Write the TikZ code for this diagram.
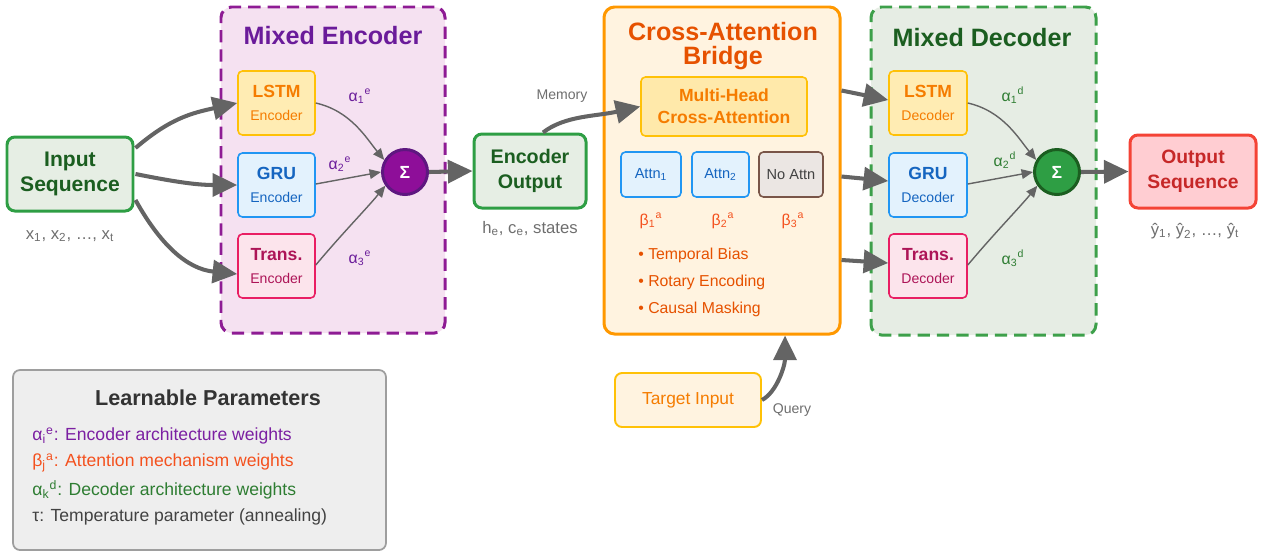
\documentclass[tikz,border=0pt]{standalone}
\usepackage{fontspec}
\setmainfont{Liberation Sans}
\usetikzlibrary{arrows.meta,calc}

% palette
\definecolor{flowgray}{HTML}{646464}
\definecolor{labgray}{HTML}{6E6E6E}
\definecolor{grnline}{HTML}{2E9E44}
\definecolor{grnfill}{HTML}{E6EEE4}
\definecolor{grntext}{HTML}{1B5E20}
\definecolor{grnalpha}{HTML}{2E7D32}
\definecolor{decfill}{HTML}{E6EDE4}
\definecolor{decline}{HTML}{3DA04A}
\definecolor{encfill}{HTML}{F5E1F1}
\definecolor{encline}{HTML}{8E1B94}
\definecolor{enctitle}{HTML}{6A1B9A}
\definecolor{sigpurple}{HTML}{8E0E99}
\definecolor{sigpurpleln}{HTML}{5E1780}
\definecolor{siggreen}{HTML}{2E9E44}
\definecolor{lstmfill}{HTML}{FFECB3}
\definecolor{lstmline}{HTML}{FFC107}
\definecolor{lstmtext}{HTML}{F57C00}
\definecolor{grufill}{HTML}{E3F2FD}
\definecolor{gruline}{HTML}{2196F3}
\definecolor{grutext}{HTML}{1565C0}
\definecolor{trfill}{HTML}{FCE4EC}
\definecolor{trline}{HTML}{E91E63}
\definecolor{trtext}{HTML}{AD1457}
\definecolor{brfill}{HTML}{FFF3E0}
\definecolor{brline}{HTML}{FF9800}
\definecolor{brtext}{HTML}{E65100}
\definecolor{betatext}{HTML}{F4511E}
\definecolor{mhafill}{HTML}{FFE9AA}
\definecolor{nafill}{HTML}{EBE6E3}
\definecolor{naline}{HTML}{795548}
\definecolor{natext}{HTML}{424242}
\definecolor{outfill}{HTML}{FFCDD2}
\definecolor{outln}{HTML}{F44336}
\definecolor{outtext}{HTML}{C62828}
\definecolor{legfill}{HTML}{EEEEEE}
\definecolor{legline}{HTML}{9E9E9E}
\definecolor{legtitle}{HTML}{333333}
\definecolor{legpurple}{HTML}{7B1FA2}
\definecolor{leggreen}{HTML}{2E7D32}
\definecolor{legdark}{HTML}{424242}

\begin{document}
\begin{tikzpicture}[x=0.02cm, y=-0.02cm,
  sz/.style 2 args={minimum width=#1*0.02cm, minimum height=#2*0.02cm},
  mainbox/.style={draw=grnline, fill=grnfill, line width=1.7pt, rounded corners=4.5pt,
    inner sep=0pt, align=center, text=grntext},
  cell/.style={line width=0.9pt, rounded corners=2.5pt, inner sep=0pt, align=center,
    font=\fontsize{8}{13}\selectfont},
  group/.style={line width=1.7pt, rounded corners=6pt, dash pattern=on 7pt off 4pt, inner sep=0pt},
  sumnode/.style={circle, minimum size=45*0.02cm, inner sep=0pt, line width=1.7pt,
    text=white, font=\bfseries\fontsize{10}{12}\selectfont},
  bigflow/.style={draw=flowgray, line width=2.3pt, -{Triangle[length=14pt,width=13pt]}},
  thinflow/.style={draw=flowgray, line width=0.8pt, -{Triangle[length=6.5pt,width=5.5pt]}},
  note/.style={text=labgray, font=\fontsize{9.5}{11}\selectfont},
  smallnote/.style={text=labgray, font=\fontsize{8}{10}\selectfont},
  grouphead/.style={font=\bfseries\fontsize{14.3}{13.3}\selectfont, align=center},
  wlab/.style={font=\fontsize{9}{11}\selectfont},
  bullet/.style={anchor=west, inner sep=0pt, text=brtext, font=\fontsize{9}{11}\selectfont},
  legline/.style={anchor=west, inner sep=0pt, font=\fontsize{10}{12}\selectfont}
]
\useasboundingbox (0,0) rectangle (1263,552);

% ---------- group frames ----------
\node[group, draw=encline, fill=encfill, sz={224}{326}] (encgrp) at (333,170) {};
\node[grouphead, text=enctitle] (enchead) at (333,36) {Mixed Encoder};

\node[draw=brline, fill=brfill, line width=1.7pt, rounded corners=6pt, inner sep=0pt,
  sz={236}{327}] (bridge) at (722,170.5) {};
\node[grouphead, text=brtext] (brhead) at (723,46) {Cross-Attention\\Bridge};

\node[group, draw=decline, fill=decfill, sz={225}{328}] (decgrp) at (983.5,171) {};
\node[grouphead, text=grntext] (dechead) at (982,38) {Mixed Decoder};

% ---------- input side ----------
\node[mainbox, sz={126}{74}, font=\bfseries\fontsize{12}{14.7}\selectfont] (inp) at (70,174)
  {Input\\Sequence};
\node[note] (xlab) at (70,236)
  {x\textsubscript{1}, x\textsubscript{2}, …, x\textsubscript{t}};

% ---------- encoder cells ----------
\node[cell, draw=lstmline, fill=lstmfill, text=lstmtext, sz={77}{64}] (lstme) at (276.5,103)
  {{\bfseries\fontsize{10}{12}\selectfont LSTM}\\Encoder};
\node[cell, draw=gruline, fill=grufill, text=grutext, sz={77}{64}] (grue) at (276.5,185)
  {{\bfseries\fontsize{10}{12}\selectfont GRU}\\Encoder};
\node[cell, draw=trline, fill=trfill, text=trtext, sz={77}{64}] (transe) at (276.5,266)
  {{\bfseries\fontsize{10}{12}\selectfont Trans.}\\Encoder};
\node[sumnode, fill=sigpurple, draw=sigpurpleln] (sige) at (405,172) {Σ};

\node[wlab, text=enctitle] (ae1) at (360,96) {α\textsubscript{1}\textsuperscript{e}};
\node[wlab, text=enctitle] (ae2) at (340,164) {α\textsubscript{2}\textsuperscript{e}};
\node[wlab, text=enctitle] (ae3) at (360,258) {α\textsubscript{3}\textsuperscript{e}};

% ---------- encoder output ----------
\node[mainbox, sz={112}{74}, font=\bfseries\fontsize{11.2}{14.2}\selectfont] (encout) at (530,171)
  {Encoder\\Output};
\node[note] (hlab) at (530,229) {h\textsubscript{e}, c\textsubscript{e}, states};
\node[smallnote] (memlab) at (562,96) {Memory};

% ---------- bridge content ----------
\node[cell, draw=lstmline, fill=mhafill, text=lstmtext, sz={166}{59},
  font=\bfseries\fontsize{10}{12.5}\selectfont] (mha) at (724,106.5) {Multi-Head\\Cross-Attention};
\node[cell, draw=gruline, fill=grufill, text=grutext, sz={60}{45},
  font=\fontsize{8.3}{10}\selectfont] (attn1) at (651,174.5) {Attn\textsubscript{1}};
\node[cell, draw=gruline, fill=grufill, text=grutext, sz={57}{45},
  font=\fontsize{8.3}{10}\selectfont] (attn2) at (720.5,174.5) {Attn\textsubscript{2}};
\node[cell, draw=naline, fill=nafill, text=natext, sz={64}{45},
  font=\fontsize{8.3}{10}\selectfont] (noattn) at (791,174.5) {No Attn};

\node[wlab, text=betatext] (b1) at (651,221) {β\textsubscript{1}\textsuperscript{a}};
\node[wlab, text=betatext] (b2) at (723,221) {β\textsubscript{2}\textsuperscript{a}};
\node[wlab, text=betatext] (b3) at (793,221) {β\textsubscript{3}\textsuperscript{a}};

\node[bullet] (bul1) at (638,255) {• Temporal Bias};
\node[bullet] (bul2) at (638,282) {• Rotary Encoding};
\node[bullet] (bul3) at (638,309) {• Causal Masking};

\node[cell, draw=lstmline, fill=brfill, text=lstmtext, sz={146}{54}, line width=1.1pt,
  rounded corners=4pt, font=\fontsize{9.9}{12}\selectfont] (target) at (688,400) {Target Input};
\node[smallnote] (qlab) at (792,410) {Query};

% ---------- decoder cells ----------
\node[cell, draw=lstmline, fill=lstmfill, text=lstmtext, sz={78}{64}] (lstmd) at (928,103)
  {{\bfseries\fontsize{10}{12}\selectfont LSTM}\\Decoder};
\node[cell, draw=gruline, fill=grufill, text=grutext, sz={78}{64}] (grud) at (928,185)
  {{\bfseries\fontsize{10}{12}\selectfont GRU}\\Decoder};
\node[cell, draw=trline, fill=trfill, text=trtext, sz={78}{64}] (transd) at (928,266)
  {{\bfseries\fontsize{10}{12}\selectfont Trans.}\\Decoder};
\node[sumnode, fill=siggreen, draw=grntext] (sigd) at (1057,172) {Σ};

\node[wlab, text=grnalpha] (ad1) at (1013,95) {α\textsubscript{1}\textsuperscript{d}};
\node[wlab, text=grnalpha] (ad2) at (1005,160) {α\textsubscript{2}\textsuperscript{d}};
\node[wlab, text=grnalpha] (ad3) at (1013,258) {α\textsubscript{3}\textsuperscript{d}};

% ---------- output ----------
\node[mainbox, draw=outln, fill=outfill, text=outtext, sz={126}{73},
  font=\bfseries\fontsize{11}{14.2}\selectfont] (outp) at (1193,171.5) {Output\\Sequence};
\node[note, text=labgray] (ylab) at (1195,231)
  {ŷ\textsubscript{1}, ŷ\textsubscript{2}, …, ŷ\textsubscript{t}};

% ---------- legend ----------
\node[draw=legline, fill=legfill, line width=1pt, rounded corners=4pt, inner sep=0pt,
  sz={373}{180}] (legend) at (199.5,460) {};
\node[font=\bfseries\fontsize{12.3}{14}\selectfont, text=legtitle] (leghead) at (208,398)
  {Learnable Parameters};
\node[legline, text=legpurple] (leg1) at (32,436)
  {α\textsubscript{i}\textsuperscript{e}: Encoder architecture weights};
\node[legline, text=betatext] (leg2) at (32,463)
  {β\textsubscript{j}\textsuperscript{a}: Attention mechanism weights};
\node[legline, text=leggreen] (leg3) at (32,490)
  {α\textsubscript{k}\textsuperscript{d}: Decoder architecture weights};
\node[legline, text=legdark] (leg4) at (32,517)
  {τ: Temperature parameter (annealing)};

% ---------- connectors ----------
\draw[bigflow] ($(inp.east)+(1,-26)$) .. controls +(35,-30) and +(-45,10) .. (lstme.west);
\draw[bigflow] ($(inp.east)+(1,0)$) .. controls +(40,8) and +(-40,0) .. (grue.west);
\draw[bigflow] ($(inp.east)+(1,26)$) .. controls +(25,45) and +(-50,-5) .. ($(transe.west)+(0,8)$);

\draw[thinflow] (lstme.east) .. controls +(35,8) and +(-18,-22) .. (sige.150);
\draw[thinflow] ($(grue.east)+(0,-1)$) -- (sige.west);
\draw[thinflow] ($(transe.east)+(0,-1)$) .. controls +(25,-30) and +(-18,22) .. (sige.-145);

\draw[bigflow] (sige.east) -- (encout.west);
\draw[bigflow] ($(encout.north)+(13,0)$) .. controls +(22,-17) and +(-45,10) .. (mha.west);

\draw[bigflow] ($(bridge.east)+(0,-80)$) -- ($(lstmd.west)+(0,-3)$);
\draw[bigflow] ($(bridge.east)+(0,6)$) -- ($(grud.west)+(0,-4)$);
\draw[bigflow] ($(bridge.east)+(0,89.5)$) -- ($(transd.west)+(0,-3)$);

\draw[thinflow] (lstmd.east) .. controls +(35,8) and +(-18,-22) .. (sigd.150);
\draw[thinflow] ($(grud.east)+(0,-1)$) -- (sigd.west);
\draw[thinflow] ($(transd.east)+(0,-1)$) .. controls +(25,-30) and +(-18,22) .. (sigd.-145);

\draw[bigflow] (sigd.east) -- (outp.west);

\draw[bigflow] (target.east) .. controls +(15,-8) and +(0,30) .. ($(bridge.south)+(63,0)$);
\end{tikzpicture}
\end{document}
